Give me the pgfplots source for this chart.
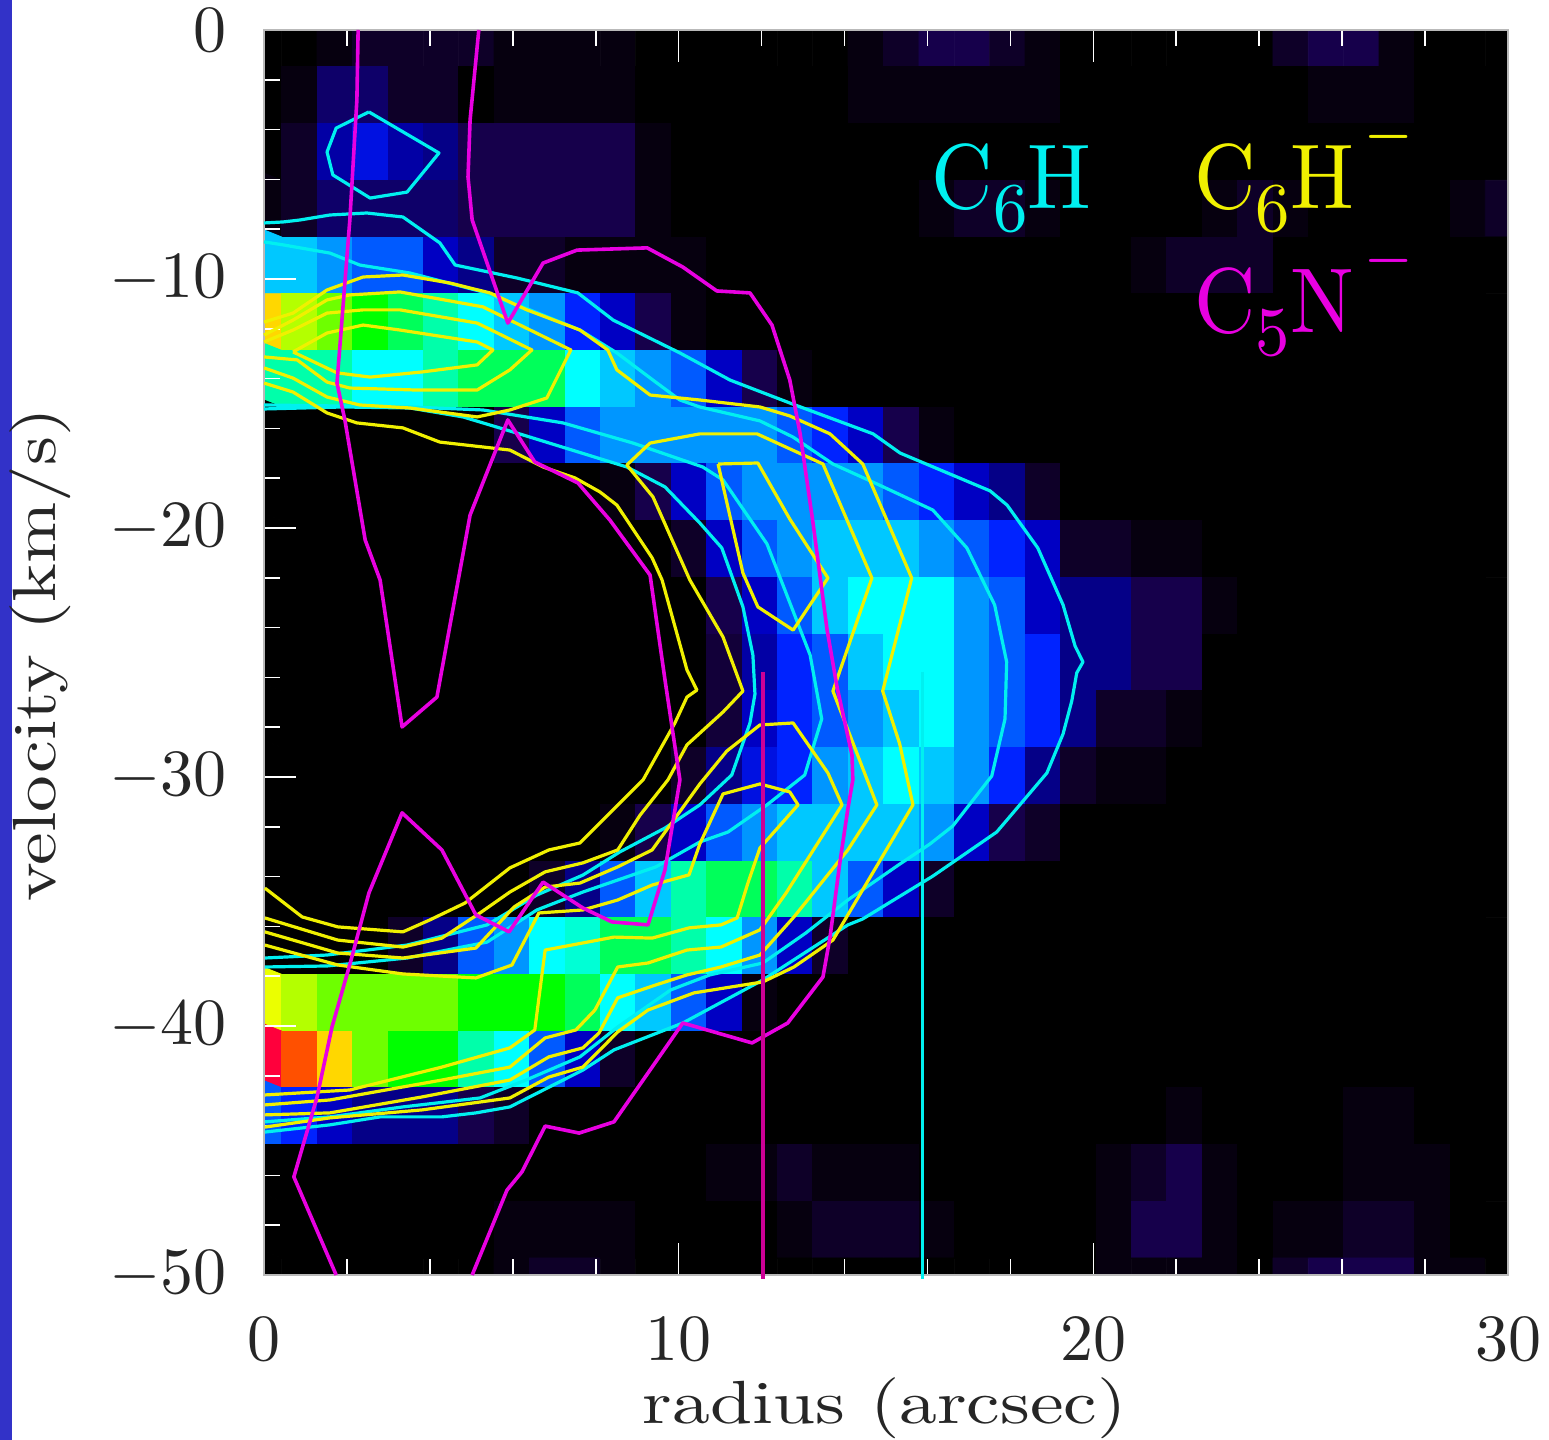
\RequirePackage{fix-cm}
\documentclass[border=0pt]{standalone}
\usepackage{pgfplots}
\pgfplotsset{compat=1.18}
\definecolor{cy}{RGB}{0,240,240}
\definecolor{ye}{RGB}{240,240,0}
\definecolor{mg}{RGB}{232,0,225}
\definecolor{mgv}{RGB}{205,0,150}
\definecolor{barb}{RGB}{50,50,200}
\newcommand{\subn}[1]{\raisebox{-2.6pt}{\fontsize{7.6}{7.6}\selectfont #1}}
\newcommand{\minusup}{\hspace{.9pt}\raisebox{6.3pt}{\fontsize{5.9}{5.9}\selectfont$-$}}
\tikzset{cl/.style={cy, line width=1.6pt, line join=round},
  yl/.style={ye, line width=1.6pt, line join=round},
  ml/.style={mg, line width=1.8pt, line join=round}}
\begin{document}
\begin{tikzpicture}[x=1pt,y=1pt]
\path[use as bounding box] (0,0) rectangle (774.5,720);
\fill[barb] (0,0) rectangle (6,720);
\begin{axis}[
  at={(132pt,82.5pt)}, anchor=south west,
  scale only axis, width=622pt, height=622.5pt,
  xmin=0, xmax=30, ymin=-50, ymax=0,
  axis on top=true,
  axis line style={gray!55, line width=.8pt},
  tick align=inside,
  xtick={0,10,20,30}, ytick={0,-10,-20,-30,-40,-50},
  minor x tick num=4, minor y tick num=4,
  major tick length=16pt, minor tick length=8pt,
  tick style={white, line width=.8pt},
  xtick pos=both, ytick pos=left,
  xticklabel style={inner sep=0pt, yshift=-21pt, scale=3.3, text=black!85},
  yticklabel style={inner sep=0pt, xshift=-18pt, scale=3.3, text=black!85},
  xlabel={radius (arcsec)}, ylabel={velocity (km/s)},
  xlabel style={at={(axis description cs:0.499,-0.107)}, anchor=center, inner sep=0pt, xscale=3.78, yscale=3.05, text=black!85},
  ylabel style={at={(axis description cs:-0.18,0.498)}, anchor=center, inner sep=0pt, xscale=3.67, yscale=3.05, text=black!85},
  colormap={heat}{rgb255(0)=(0,0,0) rgb255(1)=(6,0,15) rgb255(2)=(14,0,40) rgb255(3)=(22,0,75)
    rgb255(4)=(5,0,135) rgb255(5)=(0,0,195) rgb255(6)=(0,35,255) rgb255(7)=(0,90,255)
    rgb255(8)=(0,150,255) rgb255(9)=(0,200,255) rgb255(10)=(0,255,255) rgb255(11)=(0,255,170)
    rgb255(12)=(0,255,90) rgb255(13)=(0,255,0) rgb255(14)=(110,255,0) rgb255(15)=(180,255,0)
    rgb255(16)=(235,255,0) rgb255(17)=(255,215,0) rgb255(18)=(255,80,0) rgb255(19)=(255,0,60)},
  point meta min=0, point meta max=19,
]
\addplot[matrix plot*, mesh/cols=37, point meta=\thisrow{c}] table[row sep=crcr,
  x expr={(mod(\coordindex,37)-1)*0.8537}, y expr={-0.34-2.278*floor(\coordindex/37)}] {
c\\
0\\0\\0\\1\\2\\2\\2\\2\\1\\1\\
1\\1\\0\\0\\0\\0\\0\\0\\1\\2\\
3\\3\\2\\1\\0\\0\\0\\0\\0\\0\\
2\\3\\3\\1\\0\\0\\0\\
0\\0\\1\\3.5\\3.5\\2\\2\\0\\1\\1\\
1\\1\\0\\0\\0\\0\\0\\0\\1\\1\\
1\\1\\1\\1\\0\\0\\0\\0\\0\\0\\
0\\1\\1\\1\\0\\0\\0\\
0\\0\\2\\4.5\\5.5\\4.5\\4\\3\\3\\3\\
3\\3\\1\\0\\0\\0\\0\\0\\0\\0\\
0\\0\\0\\0\\0\\0\\0\\0\\0\\0\\
0\\0\\0\\0\\0\\0\\0\\
1\\1\\2\\3.5\\3.5\\3.5\\3.5\\3\\3\\3\\
3\\3\\1\\0\\0\\0\\0\\0\\0\\0\\
1\\2\\2\\1\\0\\0\\0\\0\\1\\2\\
1\\0\\0\\0\\0\\1\\2\\
9\\9\\9\\8\\7\\7\\5\\4\\2\\2\\
1\\1\\1\\1\\0\\0\\0\\0\\0\\0\\
0\\0\\0\\0\\0\\0\\1\\2\\2\\2\\
0\\0\\0\\0\\0\\0\\0\\
17\\17\\15\\14\\13\\12\\11\\10\\9\\8\\
6\\5\\3\\1\\0\\0\\0\\0\\0\\0\\
0\\0\\0\\0\\0\\0\\0\\0\\0\\0\\
0\\0\\0\\0\\0\\0\\0\\
11\\11\\11\\11\\10\\10\\11\\12\\12\\12\\
10\\9\\8\\7\\5\\3\\1\\0\\0\\0\\
0\\0\\0\\0\\0\\0\\0\\0\\0\\0\\
0\\0\\0\\0\\0\\0\\0\\
0\\0\\0\\0\\0\\0\\0\\0\\3\\5\\
7\\8\\8\\8\\8\\8\\7\\6\\5\\3\\
1\\0\\0\\0\\0\\0\\0\\0\\0\\0\\
0\\0\\0\\0\\0\\0\\0\\
0\\0\\0\\0\\0\\0\\0\\0\\0\\0\\
0\\1\\3\\5\\7\\8\\8\\8\\8\\7\\
6\\5\\4\\2\\0\\0\\0\\0\\0\\0\\
0\\0\\0\\0\\0\\0\\0\\
0\\0\\0\\0\\0\\0\\0\\0\\0\\0\\
0\\0\\0\\2\\5\\7\\8\\9\\9\\9\\
8\\7\\6\\5\\2\\2\\1\\1\\0\\0\\
0\\0\\0\\0\\0\\0\\0\\
0\\0\\0\\0\\0\\0\\0\\0\\0\\0\\
0\\0\\0\\0\\3\\5\\7\\9\\10\\10\\
10\\8\\7\\5\\4\\4\\3\\3\\1\\0\\
0\\0\\0\\0\\0\\0\\0\\
0\\0\\0\\0\\0\\0\\0\\0\\0\\0\\
0\\0\\0\\0\\2.5\\4.5\\6\\7\\9\\10\\
10\\8\\7\\6\\4\\4\\3\\3\\0\\0\\
0\\0\\0\\0\\0\\0\\0\\
0\\0\\0\\0\\0\\0\\0\\0\\0\\0\\
0\\0\\0\\0\\2.5\\5\\6\\7\\8\\9\\
10\\8\\7\\6\\4\\2\\2\\1\\0\\0\\
0\\0\\0\\0\\0\\0\\0\\
0\\0\\0\\0\\0\\0\\0\\0\\0\\0\\
0\\0\\0\\2\\4\\5.5\\6\\8\\9\\10\\
9\\8\\6\\4\\2\\1\\1\\0\\0\\0\\
0\\0\\0\\0\\0\\0\\0\\
0\\0\\0\\0\\0\\0\\0\\0\\0\\0\\
0\\1\\3\\5\\7\\8\\9\\9\\9\\9\\
8\\5\\3\\2\\0\\0\\0\\0\\0\\0\\
0\\0\\0\\0\\0\\0\\0\\
0\\0\\0\\0\\0\\0\\0\\0\\0\\2\\
4\\7\\9\\11\\12\\12\\11\\9\\7\\5\\
2\\0\\0\\0\\0\\0\\0\\0\\0\\0\\
0\\0\\0\\0\\0\\0\\0\\
0\\0\\0\\0\\0\\2\\4\\7\\8\\10\\
10.5\\12\\12\\11\\10\\8\\5\\2\\0\\0\\
0\\0\\0\\0\\0\\0\\0\\0\\0\\0\\
0\\0\\0\\0\\0\\0\\0\\
16\\16\\15\\14\\14\\14\\14\\13\\13\\13\\
12\\10\\9\\7\\5\\1\\0\\0\\0\\0\\
0\\0\\0\\0\\0\\0\\0\\0\\0\\0\\
0\\0\\0\\0\\0\\0\\0\\
19\\19\\18\\17\\14\\13\\13\\11\\10\\7\\
5\\2\\0\\0\\0\\0\\0\\0\\0\\0\\
0\\0\\0\\0\\0\\0\\0\\0\\0\\0\\
0\\0\\0\\0\\0\\0\\0\\
7\\7\\6\\5\\4\\4\\4\\3\\2\\0\\
0\\0\\0\\0\\0\\0\\0\\0\\0\\0\\
0\\0\\0\\0\\0\\0\\0\\1\\0\\0\\
0\\0\\1\\1\\0\\0\\0\\
0\\0\\0\\0\\0\\0\\0\\0\\0\\0\\
0\\0\\0\\0\\1\\1\\2\\1\\1\\1\\
0\\0\\0\\0\\0\\1\\2\\3\\1\\0\\
0\\0\\1\\1\\1\\0\\0\\
0\\0\\0\\0\\0\\0\\0\\0\\1\\1\\
1\\1\\0\\0\\0\\0\\1\\2\\2\\2\\
1\\0\\0\\0\\0\\1\\3\\3\\1\\0\\
1\\1\\2\\2\\1\\0\\0\\
0\\0\\0\\0\\0\\0\\0\\0\\1\\2\\
2\\1\\0\\0\\0\\0\\0\\0\\0\\0\\
0\\0\\0\\0\\0\\1\\1\\1\\1\\0\\
2\\3\\3\\3\\1\\1\\0\\
};
\end{axis}
\begin{axis}[
  at={(132pt,82.5pt)}, anchor=south west,
  scale only axis, width=622pt, height=622.5pt,
  xmin=0, xmax=30, ymin=-50, ymax=0,
  hide axis, clip=false,
]
% C6H contours
\addplot[cl] coordinates {(2.53,-3.29)(1.74,-3.94)(1.52,-4.90)(1.66,-5.82)(2.56,-6.75)(3.45,-6.51)(4.22,-4.94)(2.53,-3.29)};
\addplot[cl] coordinates {(0,-7.75)(.46,-7.71)(.87,-7.63)(1.59,-7.43)(2.48,-7.35)(3.35,-7.51)(4.24,-8.55)(4.61,-9.44)(6.10,-9.96)(7.57,-10.56)(8.42,-11.65)(10.03,-12.97)(11.24,-14.06)(12.68,-14.98)(14.69,-16.22)(15.34,-16.99)(17.51,-18.51)(17.92,-19.08)(18.66,-20.80)(19.27,-23.09)(19.56,-24.74)(19.75,-25.38)(19.60,-25.82)(19.48,-26.95)(19.27,-28.27)(18.88,-29.84)(17.67,-32.21)(16.13,-33.98)(14.44,-35.70)(14.08,-35.94)(12.03,-38.15)(10.10,-39.88)(8.44,-40.96)(7.69,-41.77)(5.93,-43.25)(5.11,-43.49)(4.29,-43.65)(2.80,-43.65)(1.59,-43.97)(.02,-44.26)};
\addplot[cl] coordinates {(0,-8.51)(.46,-8.63)(1.59,-8.96)(2.31,-9.44)(3.52,-9.76)(5.28,-10.52)(6.41,-11.24)(7.62,-12.05)(8.51,-12.97)(9.38,-14.06)(10.03,-14.86)(10.51,-15.14)(11.96,-15.70)(12.76,-16.35)(13.72,-17.43)(14.78,-18.23)(16.13,-19.28)(16.95,-20.80)(17.62,-23.09)(17.91,-25.38)(17.87,-27.67)(17.55,-29.96)(16.61,-31.97)(16.06,-32.69)(15.33,-33.50)(14.08,-34.94)(13.07,-36.26)(12.03,-37.47)(10.75,-37.95)(9.81,-38.55)(8.53,-40.04)(7.62,-41.24)(6.32,-42.17)(5.21,-42.89)(3.35,-43.25)(1.59,-43.65)(.02,-43.85)};
\addplot[cl] coordinates {(0,-15.22)(1.90,-15.14)(3.52,-15.18)(4.80,-15.54)(6.24,-16.26)(8.75,-17.55)(9.67,-18.35)(10.51,-19.80)(11.04,-20.80)(11.55,-23.17)(11.79,-25.10)(11.84,-26.67)(11.72,-27.83)(11.28,-29.92)(10.51,-31.12)(9.67,-32.05)(8.58,-33.01)(7.69,-33.94)(6.58,-34.74)(5.38,-35.94)(3.45,-36.75)(1.52,-37.15)(.02,-37.27)};
\addplot[cl] coordinates {(0,-15.06)(3.52,-15.14)(5.28,-15.26)(7.21,-15.78)(8.90,-16.59)(10.58,-17.55)(11.07,-18.07)(12.13,-20.64)(13.17,-25.10)(13.45,-27.67)(13.04,-29.92)(12.13,-31.12)(11.19,-32.21)(10.51,-32.61)(9.45,-33.61)(7.69,-34.62)(6.58,-35.34)(5.38,-36.63)(3.45,-37.27)(1.52,-37.59)(.02,-37.63)};
% C6H- contours
\addplot[yl] coordinates {(0,-11.73)(.70,-11.37)(1.52,-10.44)(2.39,-9.92)(3.35,-9.84)(4.48,-10.16)(5.45,-10.56)(6.34,-11.24)(7.62,-12.05)(8.29,-12.85)(8.51,-13.65)(9.31,-14.66)(10.51,-14.86)(11.96,-15.14)(12.68,-15.50)(13.65,-16.22)(14.44,-17.43)(15.62,-22.01)(14.92,-26.55)(15.33,-28.67)(15.65,-31.12)(13.72,-36.55)(12.78,-37.63)(12.03,-38.23)(10.37,-38.67)(9.26,-39.36)(8.53,-40.24)(7.69,-41.65)(6.87,-42.05)(5.93,-42.89)(3.81,-43.37)(1.59,-43.69)(.02,-44.06)};
\addplot[yl] coordinates {(0,-14.18)(.70,-14.54)(1.52,-15.38)(2.24,-15.78)(3.35,-15.98)(4.24,-16.55)(5.93,-16.87)(6.73,-17.55)(7.50,-17.99)(8.10,-18.55)(8.51,-19.08)(9.36,-21.20)(9.60,-22.09)(10.20,-25.70)(10.44,-26.51)(10.20,-26.79)(9.91,-27.83)(9.14,-30.12)(7.62,-32.65)(6.87,-32.93)(5.93,-33.65)(4.85,-35.06)(4.00,-35.74)(3.35,-36.22)(1.78,-36.02)(.92,-35.62)(.02,-34.46)};
\addplot[yl] coordinates {(.02,-43.57)(1.59,-43.49)(3.81,-42.85)(5.93,-42.17)(6.87,-41.24)(7.69,-40.88)(8.08,-40.28)(8.53,-38.87)(9.45,-38.35)(10.20,-37.95)(11.02,-37.63)(11.96,-37.15)(12.78,-35.62)(14.08,-32.93)(14.78,-31.12)(13.72,-26.55)(14.66,-22.01)(13.48,-17.43)(11.89,-16.22)(10.51,-16.22)(9.31,-16.59)(8.75,-17.47)(9.38,-18.75)(10.27,-22.09)(11.07,-24.38)(11.55,-26.55)(11.07,-27.39)(10.20,-28.71)(9.74,-30.12)(9.07,-31.53)(8.53,-32.93)(7.69,-33.45)(6.78,-33.81)(5.93,-34.62)(5.21,-35.46)(4.29,-36.47)(3.35,-36.83)(1.78,-36.55)(.02,-35.66)};
\addplot[yl] coordinates {(.02,-43.17)(1.59,-42.97)(4.29,-42.17)(5.93,-41.65)(6.78,-40.48)(7.52,-40.16)(7.98,-39.36)(8.53,-37.63)(9.26,-37.47)(10.20,-36.95)(11.02,-36.83)(11.96,-36.14)(12.59,-34.66)(13.94,-31.12)(13.60,-29.84)(12.76,-27.83)(11.96,-27.91)(11.16,-28.96)(10.51,-30.28)(9.36,-32.93)(8.53,-33.61)(7.62,-34.26)(6.78,-34.42)(6.03,-35.22)(5.11,-36.87)(3.35,-37.27)(1.78,-37.07)(.02,-36.22)};
\addplot[yl] coordinates {(.02,-42.77)(2.07,-42.57)(4.29,-41.65)(5.93,-40.88)(6.53,-40.16)(6.78,-36.95)(8.44,-36.43)(9.36,-36.47)(10.25,-36.06)(11.02,-35.94)(11.41,-35.66)(11.67,-34.26)(11.96,-32.85)(12.88,-31.12)(12.68,-30.60)(11.96,-30.28)(11.07,-30.68)(10.51,-32.69)(10.25,-33.93)(9.36,-34.34)(8.53,-34.94)(7.69,-35.34)(6.63,-35.46)(5.98,-37.55)(5.11,-38.07)(3.35,-37.91)(1.78,-37.55)(.02,-36.75)};
\addplot[yl] coordinates {(0,-12.25)(.70,-11.65)(1.52,-10.84)(2.07,-10.64)(3.28,-10.52)(5.28,-11.12)(7.40,-12.85)(6.82,-14.78)(5.93,-15.26)(5.14,-15.54)(3.52,-15.18)(2.31,-15.06)(1.52,-14.74)(.70,-13.98)(0,-13.57)};
\addplot[yl] coordinates {(0,-12.53)(.70,-12.05)(1.52,-11.37)(2.39,-11.24)(3.28,-11.24)(5.14,-11.77)(6.46,-12.85)(5.93,-13.65)(5.14,-14.46)(3.69,-14.46)(2.07,-14.38)(1.52,-14.14)(.80,-13.25)(0,-13.13)};
\addplot[yl] coordinates {(.70,-12.93)(1.52,-12.17)(2.39,-11.85)(3.28,-12.05)(5.14,-12.53)(5.52,-12.85)(5.14,-13.45)(3.83,-13.73)(2.56,-13.94)(1.76,-13.77)(.70,-12.93)};
\addplot[yl] coordinates {(10.95,-17.43)(11.91,-17.39)(12.68,-19.64)(13.60,-22.01)(12.76,-24.10)(11.91,-23.17)(11.55,-21.81)(10.95,-17.43)};
% C5N- contours
\addplot[ml] coordinates {(2.27,0)(2.24,-2.81)(2.07,-7.63)(1.76,-14.18)(1.95,-15.66)(2.44,-20.48)(2.80,-22.09)(3.33,-27.99)(4.17,-26.79)(4.97,-19.48)(5.88,-15.66)(6.53,-17.35)(7.57,-18.19)(8.34,-19.68)(9.31,-21.89)(9.67,-26.10)(10.03,-30.12)(9.67,-33.73)(9.26,-35.94)(8.39,-35.82)(7.69,-35.26)(6.73,-34.22)(5.91,-36.22)(5.11,-35.54)(4.29,-32.93)(3.33,-31.44)(2.53,-34.66)(2.10,-37.35)(1.64,-40.04)(1.28,-42.85)(.72,-46.06)(1.74,-50)};
\addplot[ml] coordinates {(5.18,0)(4.97,-3.61)(4.92,-5.90)(5.02,-7.63)(5.88,-11.77)(6.73,-9.36)(7.55,-8.84)(9.24,-8.75)(10.10,-9.52)(10.92,-10.48)(11.72,-10.56)(12.25,-11.85)(12.68,-14.06)(12.93,-16.22)(13.24,-19.80)(13.58,-24.10)(13.82,-26.39)(14.18,-29.12)(14.20,-30.12)(14.08,-31.28)(13.89,-33.41)(13.65,-36.43)(13.48,-38.03)(12.63,-39.88)(11.77,-40.68)(10.10,-39.88)(8.44,-43.85)(7.60,-44.30)(6.78,-44.02)(6.22,-45.86)(5.86,-46.59)(5.02,-50)};
% radius marks
\addplot[mgv, line width=2pt] coordinates {(12.03,-25.78)(12.03,-50.16)};
\addplot[cy, line width=1.5pt] coordinates {(15.89,-25.78)(15.89,-50.16)};
\node[anchor=base west, inner sep=0pt, text=cy, xscale=4.25, yscale=4.6] at (axis cs:16.06,-7.15) {C\subn{6}H};
\node[anchor=base west, inner sep=0pt, text=ye, xscale=4.25, yscale=4.6] at (axis cs:22.4,-7.15) {C\subn{6}H\minusup};
\node[anchor=base west, inner sep=0pt, text=mg, xscale=4.25, yscale=4.6] at (axis cs:22.4,-12.13) {C\subn{5}N\minusup};
\end{axis}
\end{tikzpicture}
\end{document}
